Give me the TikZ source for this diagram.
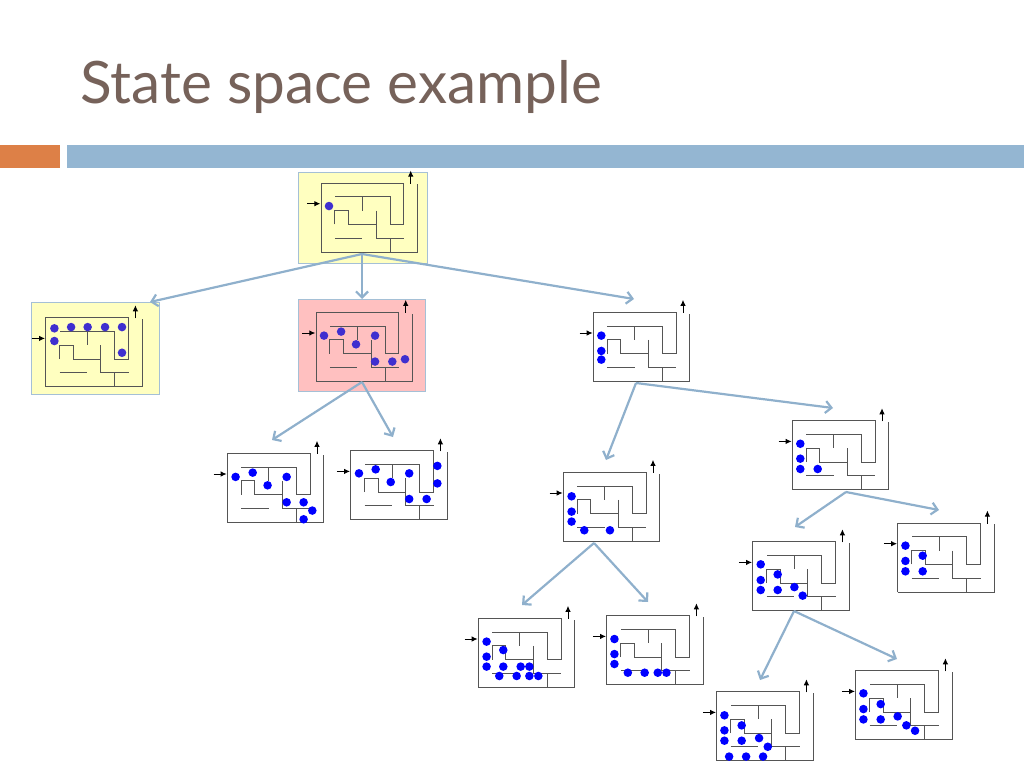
\documentclass[tikz,border=0pt]{standalone}
\usepackage{fontspec}
\setmainfont{Lato}
\usetikzlibrary{arrows.meta}
\definecolor{titlec}{HTML}{76625A}
\definecolor{barblue}{HTML}{94B6D2}
\definecolor{barorange}{HTML}{DD8047}
\definecolor{arrc}{HTML}{8FB0CC}
\definecolor{wallc}{HTML}{555555}
\definecolor{ylw}{HTML}{FFFFC0}
\definecolor{pnk}{HTML}{FFC0C0}
\definecolor{dotp}{HTML}{3F2FCF}
\tikzset{
  wall/.style={draw=wallc,line width=0.9pt},
  exitarrow/.style={draw=black,line width=0.9pt,-{Latex[length=6pt,width=5.5pt]}},
  movearrow/.style={draw=arrc,line width=2.2pt,-{Straight Barb[length=6pt,width=12pt]}},
  bgbox/.style={draw=arrc!80,line width=0.8pt},
}
\newcommand\mymaze[4]{%
\begin{scope}[shift={(#1,#2)},x=13.8pt,y=-13.8pt]
 \draw[wall] (0,5)--(0,0)--(6,0)--(6,3)--(5,3)--(5,1)--(1,1);
 \draw[wall] (3,1)--(3,2);
 \draw[wall] (1,3)--(1,2)--(2,2)--(2,3)--(4,3);
 \draw[wall] (4,2)--(4,4)--(6,4);
 \draw[wall] (5,4)--(5,5);
 \draw[wall] (1,4)--(3,4);
 \draw[wall] (0,5)--(7,5)--(7,0.1);
 \draw[exitarrow] (6.5,0.05)--(6.5,-0.9);
 \draw[exitarrow] (-1,1.5)--(-0.05,1.5);
 \foreach \a/\b in {#4} \fill[#3] (\a,\b) circle (0.31);
\end{scope}}
\begin{document}
\begin{tikzpicture}[x=1pt,y=-1pt]
\useasboundingbox (0,0) rectangle (1024,768);
\node[anchor=base west,text=titlec,font=\fontsize{58.5}{63}\selectfont,inner sep=0] (title) at (80,103) {State space example};
\fill[barorange] (0,145) rectangle (60,168);
\fill[barblue] (67,145) rectangle (1024,168);
% backgrounds
\draw[bgbox,fill=ylw] (298,172) rectangle (427,263);
\draw[bgbox,fill=ylw] (31.7,302.3) rectangle (159,394.3);
\draw[bgbox,fill=pnk] (298.3,299.7) rectangle (425.7,391);
% mazes
\mymaze{321}{183}{dotp}{0.58/1.67}
\mymaze{45.7}{317.7}{dotp}{0.63/0.77,1.84/0.68,3.04/0.68,4.3/0.68,5.53/0.68,0.63/1.69,5.53/2.54}
\mymaze{316}{312.3}{dotp}{0.58/1.69,1.82/1.4,2.9/2.32,4.28/1.69,4.28/3.57,5.53/3.57,6.45/3.4}
\mymaze{593.3}{312.3}{blue}{0.58/1.69,0.58/2.8,0.58/3.43}
\mymaze{792.3}{420.7}{blue}{0.58/1.67,0.58/2.75,0.58/3.5,1.84/3.5}
\mymaze{227.3}{453.3}{blue}{0.6/1.71,1.84/1.4,2.92/2.32,4.3/1.71,4.3/3.55,5.53/3.55,6.16/4.15,5.53/4.78}
\mymaze{350.7}{450.7}{blue}{0.6/1.64,1.81/1.35,2.9/2.27,4.24/1.64,4.24/3.5,5.5/3.5,6.28/1.1,6.28/2.37}
\mymaze{563.3}{472.3}{blue}{0.6/1.74,0.6/2.85,0.6/3.57,1.52/4.2,3.38/4.2}
\mymaze{752.7}{541.7}{blue}{0.58/1.64,1.81/2.37,0.58/2.78,0.58/3.5,1.81/3.5,3.02/3.29,3.62/3.91}
\mymaze{897.7}{523}{blue}{0.56/1.64,1.81/2.37,0.56/2.75,0.56/3.5,1.81/3.5}
\mymaze{478.3}{618.3}{blue}{0.6/1.69,1.81/2.3,0.6/2.78,0.6/3.5,1.81/3.5,3.07/3.5,3.7/3.5,1.52/4.18,2.78/4.18,3.7/4.18,4.35/4.18}
\mymaze{606.7}{615.7}{blue}{0.56/1.69,0.56/2.78,0.56/3.5,1.53/4.13,2.75/4.13,3.7/4.13,4.33/4.13}
\mymaze{716.7}{691.7}{blue}{0.56/1.71,1.81/2.44,0.56/2.8,0.56/3.55,1.81/3.55,3.07/3.36,3.7/3.99,0.9/4.7,2.13/4.7,3.36/4.7}
\mymaze{855.7}{670.7}{blue}{0.56/1.64,1.81/2.42,0.56/2.78,0.56/3.53,1.81/3.53,3.04/3.31,3.67/3.96,4.3/4.35}
% connection points
\coordinate (r) at (362,254);
\coordinate (y1) at (150,302);
\coordinate (p) at (362,299);
\coordinate (pb) at (362,382);
\coordinate (a) at (634,299);
\coordinate (ab) at (636,383);
\coordinate (c) at (272,440);
\coordinate (d) at (393,437);
\coordinate (e) at (606,460);
\coordinate (eb) at (594,543);
\coordinate (b) at (833,408);
\coordinate (bb) at (846,492);
\coordinate (f) at (795,527);
\coordinate (fb) at (794,611);
\coordinate (g) at (939,510);
\coordinate (h) at (522,605);
\coordinate (i) at (648,602);
\coordinate (j) at (760,680);
\coordinate (k) at (897,659);
\foreach \s/\t in {r/y1,r/p,r/a,pb/c,pb/d,ab/e,ab/b,bb/f,bb/g,eb/h,eb/i,fb/j,fb/k}
  \draw[movearrow] (\s)--(\t);
\end{tikzpicture}
\end{document}
